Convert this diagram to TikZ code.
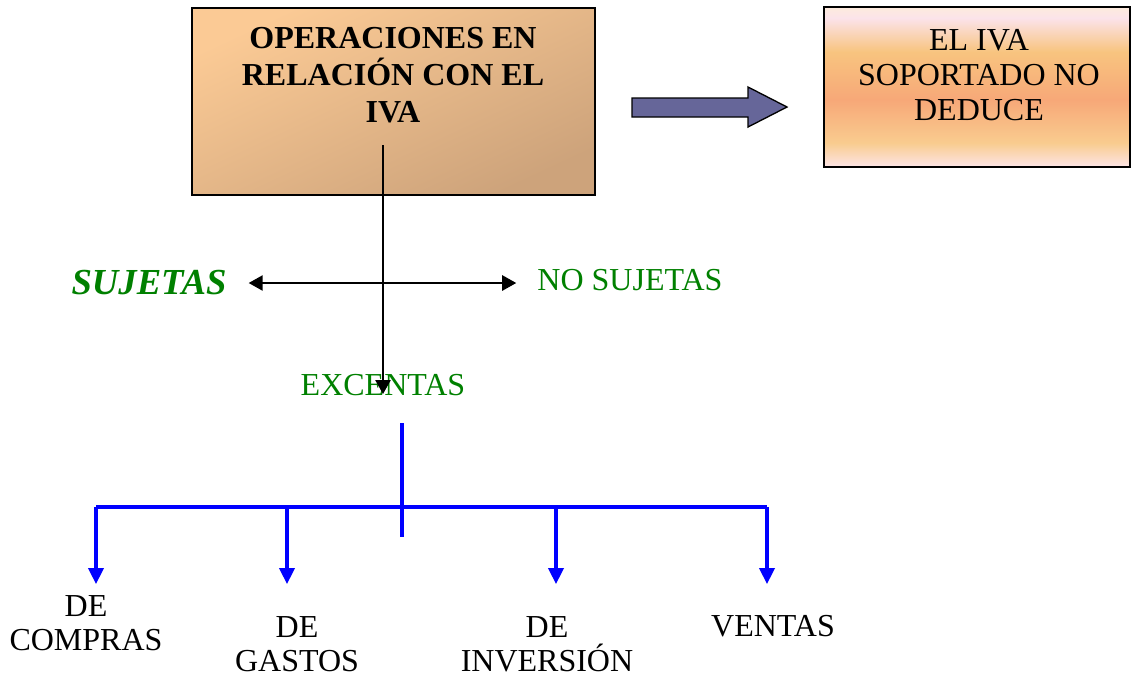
\documentclass[tikz,border=0pt]{standalone}
\usepackage{fontspec}
\setmainfont{Liberation Serif}
\usetikzlibrary{arrows.meta,calc}
\definecolor{peach}{HTML}{FBCA95}
\definecolor{tan}{HTML}{CDA37B}
\definecolor{bluearrow}{HTML}{666699}
\definecolor{grn}{HTML}{008000}
\definecolor{sA}{HTML}{FCE4E6}
\definecolor{sB}{HTML}{F9CC8F}
\definecolor{sC}{HTML}{F7A878}
\definecolor{sD}{HTML}{F8C47F}
\definecolor{sE}{HTML}{FBE3EA}
\definecolor{sF}{HTML}{FDEBDD}
\pgfdeclareverticalshading{sunset}{100bp}{color(0bp)=(sA); color(25bp)=(sA); color(32.5bp)=(sB); color(46bp)=(sC); color(61bp)=(sD); color(71.5bp)=(sE); color(75bp)=(sF); color(100bp)=(sF)}
\tikzset{
  txt/.style={inner sep=0pt, align=center, font=\fontsize{24}{25.5}\selectfont},
  greentxt/.style={txt, text=grn},
  blkarrow/.style={line width=1.1pt, -{Triangle[length=10.5pt,width=11.5pt]}},
  blkdouble/.style={line width=1.1pt, {Triangle[length=10.5pt,width=11.5pt]}-{Triangle[length=10.5pt,width=11.5pt]}},
  bluebar/.style={line width=2.3pt, draw=blue},
  bluearr/.style={line width=2.3pt, draw=blue, -{Triangle[length=12pt,width=11.5pt]}, blue},
}
\begin{document}
\begin{tikzpicture}[x=0.75pt,y=-0.75pt]
\useasboundingbox (0,0) rectangle (1131,676);
% top box
\node[draw=black, line width=1.4pt, minimum width=302.25pt, minimum height=140.25pt, inner sep=0pt,
      top color=peach, bottom color=tan, shading angle=25] (opbox) at (393.5,101.5) {};
\node[txt, font=\fontsize{24}{27.75}\selectfont\bfseries] (optxt) at (393,75) {OPERACIONES EN\\RELACIÓN CON EL\\IVA};
% block arrow
\draw[fill=bluearrow, draw=black, line width=1pt]
  (632,98) -- (748,98) -- (748,87) -- (787,107) -- (748,127) -- (748,117) -- (632,117) -- cycle;
% right box
\node[draw=black, line width=1.1pt, minimum width=229.5pt, minimum height=120pt, inner sep=0pt,
      shading=sunset] (ivabox) at (977,87) {};
\node[txt, font=\fontsize{24}{26.25}\selectfont] (ivatxt) at (979,75) {EL IVA\\SOPORTADO NO\\DEDUCE};
% middle
\node[greentxt, font=\fontsize{27.5}{29}\selectfont\bfseries\itshape] (suj) at (149,283) {SUJETAS};
\node[greentxt] (nosuj) at (630,280) {NO SUJETAS};
\node[greentxt] (exc) at (383,385) {EXCENTAS};
\coordinate (hub) at (383,283);
\coordinate (vtop) at (383,145);
\coordinate (vtip) at (383,394);
\draw[blkdouble] ([xshift=16.5pt]suj.east |- hub) -- ([xshift=-15.75pt]nosuj.west |- hub);
\draw[blkarrow] (vtop) -- (vtip);
% blue tree
\coordinate (btop) at (402,423);
\coordinate (bbot) at (402,537);
\coordinate (j1) at (96,507);
\coordinate (j2) at (287,507);
\coordinate (j3) at (556,507);
\coordinate (j4) at (767,507);
\coordinate (t1) at (96,584);
\coordinate (t2) at (287,584);
\coordinate (t3) at (556,584);
\coordinate (t4) at (767,584);
\draw[bluebar] (btop) -- (bbot);
\draw[bluebar] (j1) -- (j4);
\draw[bluearr] (j1) -- (t1);
\draw[bluearr] (j2) -- (t2);
\draw[bluearr] (j3) -- (t3);
\draw[bluearr] (j4) -- (t4);
% bottom labels
\node[txt] (comp) at (86,623) {DE\\COMPRAS};
\node[txt] (gast) at (297,644) {DE\\GASTOS};
\node[txt] (inv) at (547,644) {DE\\INVERSIÓN};
\node[txt] (vent) at (773,626) {VENTAS};
\end{tikzpicture}
\end{document}
